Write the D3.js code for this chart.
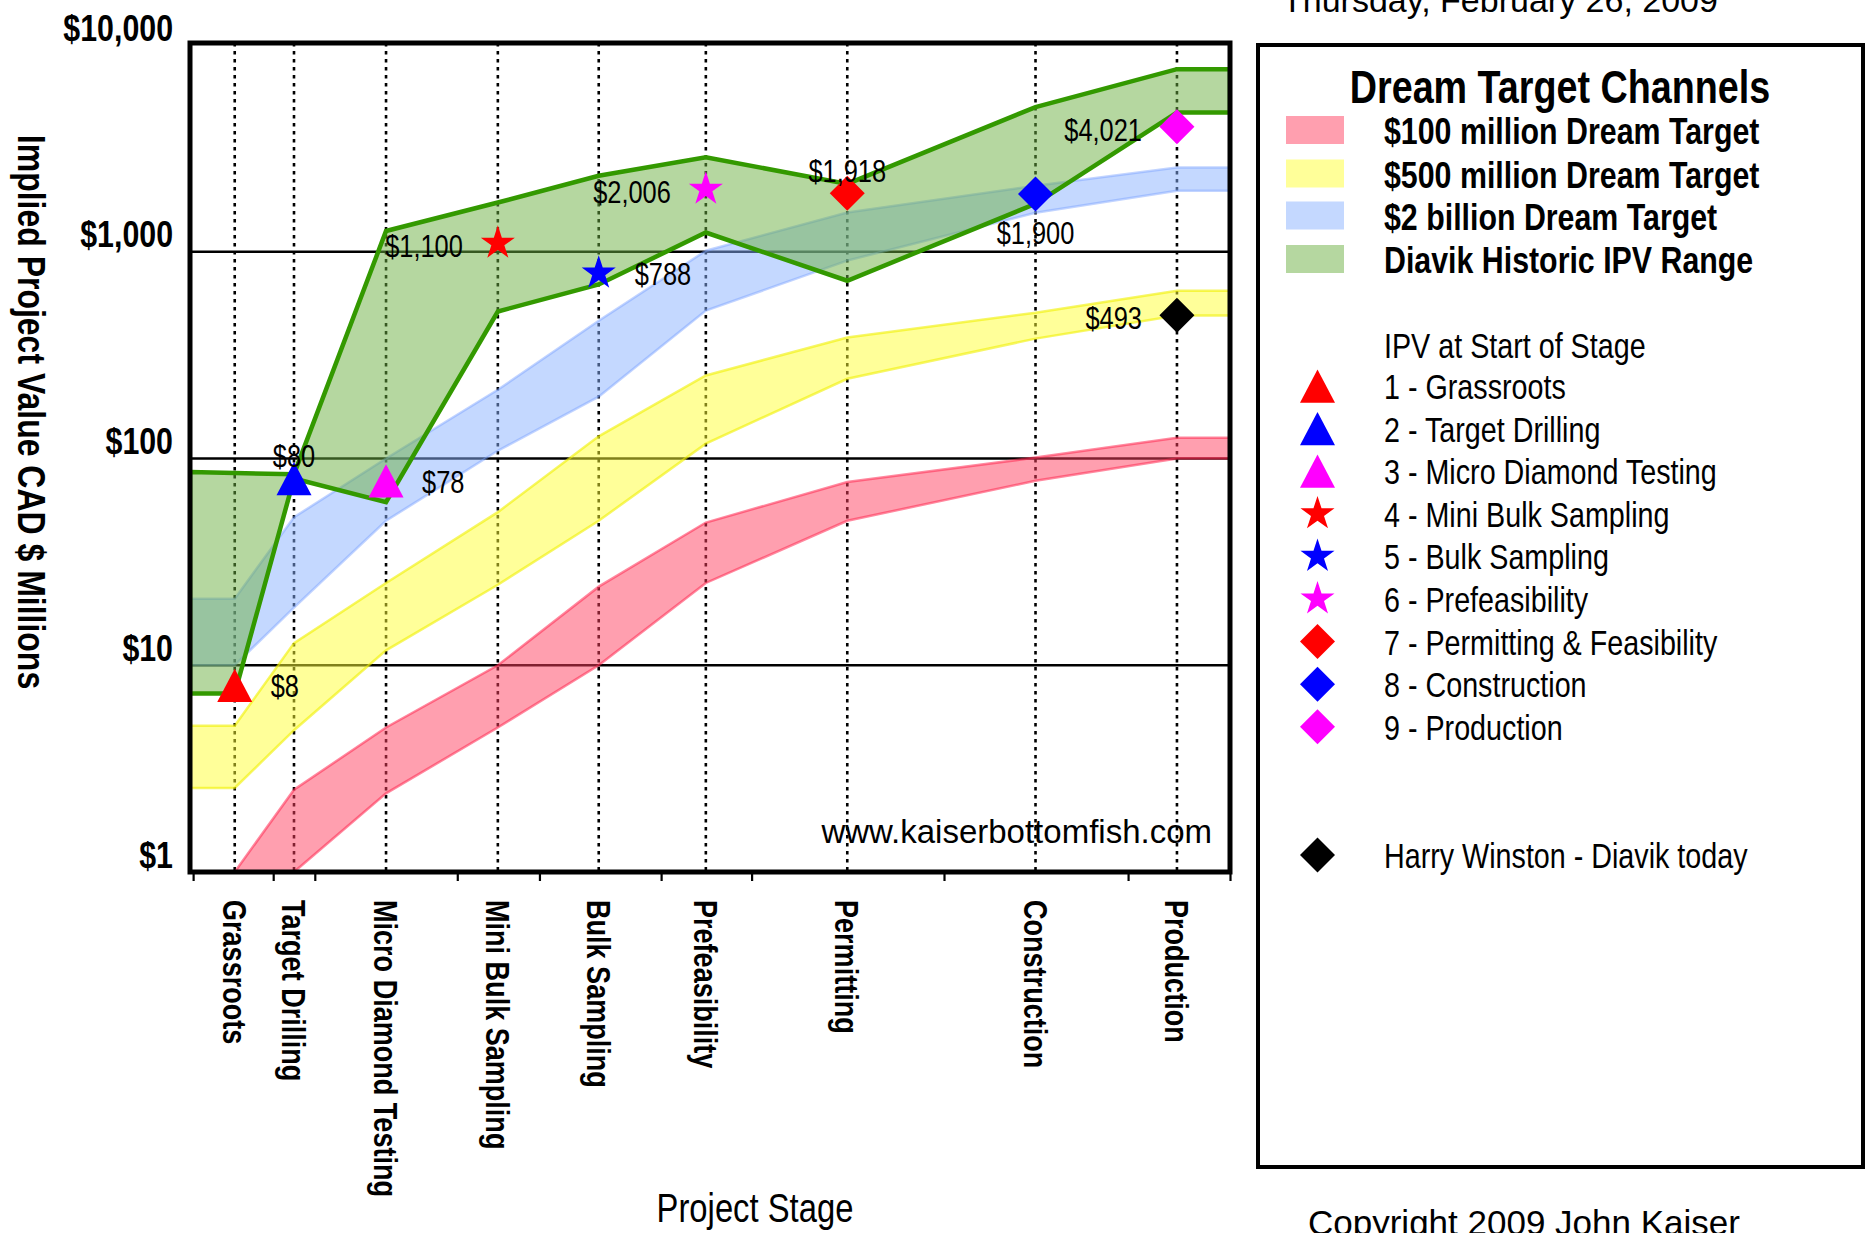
<!DOCTYPE html>
<html>
<head>
<meta charset="utf-8">
<script src="https://cdn.jsdelivr.net/npm/d3@7"></script>
<style>
  body { margin: 0; background: #fff; }
  svg { display: block; }
  text { font-family: "Liberation Sans", Arial, sans-serif; fill: #000; }
</style>
</head>
<body>
<svg id="chart" width="1870" height="1233"></svg>
<script>
// stages along the x axis (positions in stage units, 0..10 across the plot)
const stages = ["Grassroots", "Target Drilling", "Micro Diamond Testing", "Mini Bulk Sampling",
  "Bulk Sampling", "Prefeasibility", "Permitting", "Construction", "Production"];
const stagePos = [0.43, 1.0, 1.885, 2.96, 3.93, 4.96, 6.32, 8.13, 9.49];
const xTickPos = [0.03, 0.8, 1.2, 2.57, 3.36, 4.53, 5.4, 7.25, 9.02, 10];
const yTickVals = [1, 10, 100, 1000, 10000];
const gridVals = [10, 100, 1000];

// channel edges: left edge, the 9 stages, right edge ($ millions)
const bandX = [0].concat(stagePos, [10]);
const pinkLow = [1, 1, 1, 2.4, 5, 10, 25, 50, 78, 100, 100];
const pinkHigh = [1, 1, 2.5, 5, 10, 24, 49, 77, 101, 126, 126];
const yellowLow = [2.55, 2.55, 4.85, 11.8, 24.5, 50, 118, 243, 380, 491, 491];
const yellowHigh = [5.1, 5.1, 12.8, 25, 55, 128, 252, 385, 507, 648, 648];
const blueLow = [10, 10, 19, 50, 109, 199, 519, 906, 1543, 1972, 1972];
const blueHigh = [21, 21, 52, 100, 215, 464, 1011, 1549, 2084, 2554, 2554];
const greenLow = [7.3, 7.3, 80, 61.5, 514, 695, 1239, 724, 1706, 4710, 4710];
const greenHigh = [86, 85, 84, 1260, 1730, 2330, 2860, 2130, 5010, 7640, 7640];

// IPV at start of each stage
const ipvValues = [8, 80, 78, 1100, 788, 2006, 1918, 1900, 4021];
const ipvLabels = ["$8", "$80", "$78", "$1,100", "$788", "$2,006", "$1,918", "$1,900", "$4,021"];
const ipvShapes = ["tri", "tri", "tri", "star", "star", "star", "dia", "dia", "dia"];
const ipvColors = ["#ff0000", "#0000ff", "#ff00ff", "#ff0000", "#0000ff", "#ff00ff", "#ff0000", "#0000ff", "#ff00ff"];
const ipvLabelSide = ["right", "above", "right", "left", "right", "left", "above", "below", "left"];
const harryValue = 493, harryLabel = "$493";

const channelNames = ["$100 million Dream Target", "$500 million Dream Target", "$2 billion Dream Target", "Diavik Historic IPV Range"];
const markerNames = ["1 - Grassroots", "2 - Target Drilling", "3 - Micro Diamond Testing", "4 - Mini Bulk Sampling",
  "5 - Bulk Sampling", "6 - Prefeasibility", "7 - Permitting & Feasibility", "8 - Construction", "9 - Production"];

const NARROW = 0.82; // squeeze Liberation Sans to narrow proportions

const svg = d3.select("#chart");
const x = d3.scaleLinear().domain([0, 10]).range([190, 1230]);
const y = d3.scaleLog().domain([1, 10000]).range([872, 45]);

// narrow text helper: positioned by transform, squeezed horizontally
function ntext(parent, px, py, str, o = {}) {
  return parent.append("text")
    .attr("transform", `translate(${px},${py})` + (o.rot ? ` rotate(${o.rot})` : "") + ` scale(${NARROW},1)`)
    .attr("text-anchor", o.anchor || "start")
    .attr("dominant-baseline", o.base || "auto")
    .attr("dy", o.dy || null)
    .attr("font-size", o.size || 31)
    .attr("font-weight", o.bold ? "bold" : "normal")
    .text(str);
}

// marker shapes
const triBox = { draw(ctx, size) { const w = Math.sqrt(size), h = w * 0.95;
  ctx.moveTo(0, -h / 2); ctx.lineTo(w / 2, h / 2); ctx.lineTo(-w / 2, h / 2); ctx.closePath(); } };
const diaBox = { draw(ctx, size) { const r = Math.sqrt(size) / 2;
  ctx.moveTo(0, -r); ctx.lineTo(r, 0); ctx.lineTo(0, r); ctx.lineTo(-r, 0); ctx.closePath(); } };
const shapeOf = { tri: d3.symbol(triBox, 35 * 35), star: d3.symbol(d3.symbolStar, 360), dia: d3.symbol(diaBox, 35 * 35) };

svg.append("defs").append("clipPath").attr("id", "plotclip")
  .append("rect").attr("x", 190).attr("y", 41).attr("width", 1040).attr("height", 832);

// horizontal gridlines
svg.append("g").selectAll("line").data(gridVals).enter().append("line")
  .attr("x1", x(0)).attr("x2", x(10))
  .attr("y1", d => y(d)).attr("y2", d => y(d))
  .attr("stroke", "#000").attr("stroke-width", 2.3);

// dotted stage lines
svg.append("g").selectAll("line").data(stagePos).enter().append("line")
  .attr("x1", d => x(d)).attr("x2", d => x(d))
  .attr("y1", 43).attr("y2", 872)
  .attr("stroke", "#000").attr("stroke-width", 2.6).attr("stroke-dasharray", "3.5,4.5");

// channels
const bands = [
  { low: pinkLow, high: pinkHigh, fill: "rgba(255,64,96,0.5)", stroke: "rgba(255,40,80,0.55)", sw: 2.5 },
  { low: yellowLow, high: yellowHigh, fill: "rgba(255,255,51,0.5)", stroke: "rgba(240,240,0,0.6)", sw: 2.5 },
  { low: blueLow, high: blueHigh, fill: "rgba(137,177,255,0.5)", stroke: "rgba(120,160,255,0.45)", sw: 2.5 },
  { low: greenLow, high: greenHigh, fill: "rgba(107,175,65,0.5)", stroke: "#339900", sw: 4.5 }
];
const area = d3.area()
  .x((d, i) => x(bandX[i]))
  .y0(d => y(d[0]))
  .y1(d => y(d[1]));
svg.append("g").attr("clip-path", "url(#plotclip)")
  .selectAll("path").data(bands).enter().append("path")
  .attr("d", b => area(b.low.map((v, i) => [v, b.high[i]])))
  .attr("fill", b => b.fill)
  .attr("stroke", b => b.stroke)
  .attr("stroke-width", b => b.sw)
  .attr("stroke-linejoin", "miter");

// plot frame
svg.append("rect").attr("x", 190).attr("y", 43).attr("width", 1040).attr("height", 829)
  .attr("fill", "none").attr("stroke", "#000").attr("stroke-width", 5);

// x axis ticks
const xAxis = svg.append("g").attr("transform", "translate(0,872)")
  .call(d3.axisBottom(x).tickValues(xTickPos).tickSize(9).tickFormat(""));
xAxis.select(".domain").remove();
xAxis.selectAll(".tick line").attr("stroke", "#000").attr("stroke-width", 2.2);

// y axis labels
const yAxis = svg.append("g").attr("transform", "translate(190,0)")
  .call(d3.axisLeft(y).tickValues(yTickVals).tickSize(0).tickFormat(d3.format("$,")));
yAxis.select(".domain").remove();
yAxis.selectAll(".tick text")
  .attr("x", 0).attr("dy", null)
  .attr("transform", `translate(-17,-5) scale(${NARROW},1)`)
  .attr("font-family", null)
  .attr("font-size", 37).attr("font-weight", "bold").attr("fill", "#000");

// category labels (rotated)
const catG = svg.append("g");
stages.forEach((s, i) => ntext(catG, x(stagePos[i]), 900, s, { rot: 90, dy: "0.36em", size: 33, bold: true }));

// axis titles
ntext(svg, 18, 412, "Implied Project Value CAD $ Millions", { rot: 90, anchor: "middle", size: 39, bold: true });
ntext(svg, 755, 1222, "Project Stage", { anchor: "middle", size: 40 });

// markers
const pts = ipvValues.map((v, i) => ({ v, px: x(stagePos[i]), py: y(v), shape: ipvShapes[i], color: ipvColors[i], label: ipvLabels[i], side: ipvLabelSide[i] }));
pts.push({ v: harryValue, px: x(stagePos[8]), py: y(harryValue), shape: "dia", color: "#000", label: harryLabel, side: "left" });

const mk = svg.append("g");
mk.selectAll("path").data(pts).enter().append("path")
  .attr("transform", d => `translate(${d.px},${d.py})`)
  .attr("d", d => shapeOf[d.shape]())
  .attr("fill", d => d.color);

const place = {
  right: d => ({ x: d.px + 36, y: d.py + 1, a: "start" }),
  left: d => ({ x: d.px - 35, y: d.py + 3, a: "end" }),
  above: d => ({ x: d.px, y: d.py - 22, a: "middle" }),
  below: d => ({ x: d.px, y: d.py + 39, a: "middle" })
};
pts.forEach(d => {
  const p = place[d.side](d);
  ntext(mk, p.x, p.y, d.label, { anchor: p.a, base: "central", size: 31 });
});

// watermark
svg.append("text")
  .attr("x", 1212).attr("y", 843).attr("text-anchor", "end").attr("font-size", 33)
  .text("www.kaiserbottomfish.com");

// date and copyright
svg.append("text").attr("x", 1282).attr("y", 12).attr("font-size", 34)
  .text("Thursday, February 26, 2009");
svg.append("text").attr("x", 1308).attr("y", 1235).attr("font-size", 35)
  .text("Copyright 2009 John Kaiser");

// legend
const lg = svg.append("g");
lg.append("rect").attr("x", 1258).attr("y", 45).attr("width", 605).attr("height", 1122)
  .attr("fill", "#fff").attr("stroke", "#000").attr("stroke-width", 4);
ntext(lg, 1560, 103, "Dream Target Channels", { anchor: "middle", size: 46, bold: true });

const chanRows = [130, 173.5, 215.5, 259];
lg.selectAll("rect.sw").data(bands).enter().append("rect").attr("class", "sw")
  .attr("x", 1286).attr("y", (d, i) => chanRows[i] - 14).attr("width", 58).attr("height", 28)
  .attr("fill", d => d.fill);
channelNames.forEach((n, i) => ntext(lg, 1384, chanRows[i] + 1, n, { base: "central", size: 37, bold: true }));

ntext(lg, 1384, 346, "IPV at Start of Stage", { base: "central", size: 35 });

const legItems = markerNames.map((n, i) => ({ name: n, shape: ipvShapes[i], color: ipvColors[i], ry: 386 + i * 42.6 }));
legItems.push({ name: "Harry Winston - Diavik today", shape: "dia", color: "#000", ry: 855 });
lg.selectAll("path.lm").data(legItems).enter().append("path").attr("class", "lm")
  .attr("transform", d => `translate(1317.5,${d.ry})`)
  .attr("d", d => shapeOf[d.shape]())
  .attr("fill", d => d.color);
legItems.forEach(d => ntext(lg, 1384, d.ry + 1, d.name, { base: "central", size: 35 }));
</script>
</body>
</html>
